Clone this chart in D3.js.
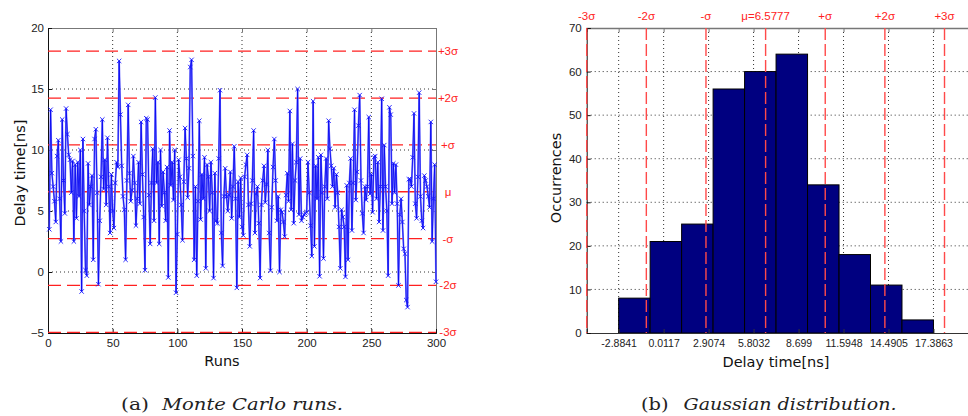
<!DOCTYPE html>
<html>
<head>
<meta charset="utf-8">
<script src="https://cdn.jsdelivr.net/npm/d3@7/dist/d3.min.js"></script>
<style>
  body { margin: 0; background: #fff; }
  svg { display: block; }
  .tick text { font-family: "Liberation Sans", Arial, sans-serif; font-size: 11.5px; fill: #222; }
  .title { font-family: "DejaVu Sans", Verdana, sans-serif; font-size: 14.5px; fill: #111; }
  .sig { font-family: "Liberation Sans", Arial, sans-serif; font-size: 11.5px; fill: #f22; }
  .cap { font-family: "DejaVu Serif", "Liberation Serif", serif; font-size: 17px; fill: #222; }
</style>
</head>
<body>
<svg id="chart" width="968" height="416"></svg>
<script>
// Monte Carlo delay per run (ns), runs 1..300
const runDelays = [
  3.5, 13.3, 8.1, 7.0, 5.8, 4.1, 9.5, 10.8, 6.0, 2.5,
  12.5, 7.5, 4.8, 13.4, 11.3, 9.6, 9.2, 6.5, 9.1, 2.5,
  8.8, 4.4, 9.0, 6.2, 10.0, -1.6, 10.9, 5.0, 0.15, -0.3,
  8.9, 5.5, 7.0, 7.9, 1.0, 10.9, 11.7, 6.5, -1.0, 4.2,
  7.8, 12.5, 6.8, 9.2, 5.5, 11.0, 7.0, 3.2, 8.0, 5.0,
  3.6, 7.3, 9.0, 8.6, 17.3, 12.9, 8.7, 6.2, 5.1, 1.0,
  7.5, 13.7, 8.1, 5.8, 6.7, 9.5, 7.3, 3.8, 6.0, 9.0,
  5.6, 12.3, 8.0, 4.5, 0.15, 12.6,
  12.5, 6.3, 2.3, 7.3, 10.1, 4.2, 14.3, 7.3, 9.0, 2.3,
  10.0, 5.4, 8.2, 6.5, 4.2, 8.6, -0.45, 11.6, 7.1, 9.0,
  5.9, 10.0, -1.7, 3.1, 9.2, 7.8, 5.5, 2.6, 7.4, 11.8,
  9.3, 6.1, 8.5, 16.8, 17.39, 9.5, 1.0, 7.0, -0.3, 5.8,
  12.4, 4.3, 8.0, 6.0, 9.4, 0.3, 8.8, 7.8, 5.0, 9.0,
  6.5, -0.5, 8.1, 4.2, 4.0, 9.3, 14.9, 3.2, 0.5, 6.2,
  8.5, 6.2, 5.0, 6.3, 8.2, 4.4, 7.0, 10.3, 6.0, -1.3,
  7.4, 4.5, 7.7, 3.7,
  3.0, 7.8, 8.8, 9.6, 5.5, 2.1, 5.6, 7.5, 11.6, 3.2,
  6.4, 7.0, 4.0, -0.5, 5.5, 7.5, 8.7, 5.7, 7.2, 10.0,
  3.2, 0.1, 5.3, 8.6, 10.9, 7.5, 4.2, 6.2, 0.0, 5.1,
  4.9, 4.1, 2.9, 6.3, 8.1, 5.8, 13.2, 5.1, 10.5, 4.0,
  7.5, 9.0, 15.0, 4.7, 9.3, 4.2, 4.5, 4.7, 4.8, 4.9,
  9.0, 6.5, 3.8, 1.3, 14.0, 2.1, 8.7, 6.0, 9.4, -0.35,
  9.6, 6.5, 1.1, 7.0, 9.3, 6.0, 12.4, 10.1, 8.7, 7.0,
  8.5, 5.3, 8.0, 6.5, 3.7, 0.3,
  5.1, 4.5, 3.7, -0.4, 7.1, 1.0, 7.3, 9.3, 3.4, 7.3,
  13.3, 5.9, 8.2, 12.0, 14.5, 7.5, 4.8, 3.2, 7.0, 5.9,
  7.0, 12.7, 6.4, 8.0, 4.9, 9.4, 9.5, 6.0, 9.0, 4.1,
  7.0, 14.2, 3.4, 10.4, 7.0, 5.0, -0.3, 13.5, 12.9, 5.6,
  8.9, 6.5, 8.8, 5.6, -1.1, 4.7, 6.0, 4.1, 1.9, 1.5,
  -2.3, -2.88, 7.6, 7.6, 7.0, 9.4, 13.0, 5.6, 4.4, 7.8,
  14.7, 6.2, 4.2, 3.6, 7.9, 7.5, 7.0, 6.2, 5.3, 12.3,
  2.5, 6.0, 8.8, -0.8
];

const mu = 6.5777;
const sigma = 3.84;
const sigmaSteps = [-3, -2, -1, 0, 1, 2, 3];
const sigmaNames = ['-3σ', '-2σ', '-σ', 'μ', '+σ', '+2σ', '+3σ'];
const histSigmaNames = ['-3σ', '-2σ', '-σ', 'μ=6.5777', '+σ', '+2σ', '+3σ'];

const runTicks = [0, 50, 100, 150, 200, 250, 300];
const delayTicks = [-5, 0, 5, 10, 15, 20];

// histogram
const binEdges = [-2.8841, -0.8571, 1.1700, 3.1970, 5.2241, 7.2511, 9.2782, 11.3052, 13.3322, 15.3593, 17.3863];
const binCounts = [8, 21, 25, 56, 60, 64, 34, 18, 11, 3];
const histTicks = [-2.8841, 0.0117, 2.9074, 5.8032, 8.699, 11.5948, 14.4905, 17.3863];
const countTicks = [0, 10, 20, 30, 40, 50, 60, 70];

const svg = d3.select('#chart');

//---------------- Left: Monte Carlo runs
const L = { left: 48, right: 436, top: 28, bot: 333 };
const xRun = d3.scaleLinear().domain([0, 300]).range([L.left, L.right]);
const yDelay = d3.scaleLinear().domain([-5, 20]).range([L.bot, L.top]);

const gL = svg.append('g');

// dotted grid
gL.append('g').selectAll('line').data(runTicks.slice(1, -1)).join('line')
  .attr('x1', d => xRun(d)).attr('x2', d => xRun(d))
  .attr('y1', L.top).attr('y2', L.bot)
  .attr('stroke', '#333').attr('stroke-dasharray', '1,3');
gL.append('g').selectAll('line').data(delayTicks.slice(1, -1)).join('line')
  .attr('x1', L.left).attr('x2', L.right)
  .attr('y1', d => yDelay(d)).attr('y2', d => yDelay(d))
  .attr('stroke', '#333').attr('stroke-dasharray', '1,3');

// box + axes (inward ticks)
gL.append('g').attr('transform', `translate(0,${L.top})`)
  .call(d3.axisTop(xRun).tickValues(runTicks).tickSize(-4).tickFormat(''))
  .call(g => g.selectAll('path,line').attr('stroke', '#777'));
gL.append('g').attr('transform', `translate(${L.right},0)`)
  .call(d3.axisRight(yDelay).tickValues(delayTicks).tickSize(-4).tickFormat(''))
  .call(g => g.selectAll('path,line').attr('stroke', '#777'));
gL.append('g').attr('transform', `translate(0,${L.bot})`)
  .call(d3.axisBottom(xRun).tickValues(runTicks).tickSize(-4).tickPadding(6))
  .call(g => g.selectAll('path,line').attr('stroke', '#111'));
gL.append('g').attr('transform', `translate(${L.left},0)`)
  .call(d3.axisLeft(yDelay).tickValues(delayTicks).tickSize(-4).tickPadding(4))
  .call(g => g.selectAll('path,line').attr('stroke', '#111'));

// sigma lines
gL.append('g').selectAll('line').data(sigmaSteps).join('line')
  .attr('x1', L.left).attr('x2', L.right)
  .attr('y1', d => yDelay(mu + d * sigma)).attr('y2', d => yDelay(mu + d * sigma))
  .attr('stroke', '#ff2020').attr('stroke-width', 1.3)
  .attr('stroke-dasharray', d => d === 0 ? '22,3' : '13,6');

gL.append('g').selectAll('text').data(sigmaSteps).join('text')
  .attr('class', 'sig')
  .attr('x', 448).attr('y', d => yDelay(mu + d * sigma))
  .attr('dy', '0.35em').attr('text-anchor', 'middle')
  .text((d, i) => sigmaNames[i]);

// runs line + x markers
const runLine = d3.line()
  .x((d, i) => xRun(i + 1))
  .y(d => yDelay(d));

gL.append('path')
  .attr('d', runLine(runDelays))
  .attr('fill', 'none')
  .attr('stroke', '#7a7aff').attr('stroke-width', 1.8);
gL.append('path')
  .attr('d', runLine(runDelays))
  .attr('fill', 'none')
  .attr('stroke', '#0000f0').attr('stroke-width', 0.8);

const m = 2.2;
gL.append('g').selectAll('path').data(runDelays).join('path')
  .attr('transform', (d, i) => `translate(${xRun(i + 1)},${yDelay(d)})`)
  .attr('d', `M${-m},${-m}L${m},${m}M${-m},${m}L${m},${-m}`)
  .attr('stroke', '#1515ff').attr('stroke-width', 0.9);

gL.append('text').attr('class', 'title')
  .attr('transform', 'translate(25,173) rotate(-90)')
  .attr('text-anchor', 'middle').text('Delay time[ns]');
gL.append('text').attr('class', 'title')
  .attr('x', 222).attr('y', 366).attr('text-anchor', 'middle').text('Runs');

//---------------- Right: Gaussian distribution histogram
const R = { left: 586.7, top: 28, bot: 333 };
const xHist = d3.scaleLinear().domain([mu - 3 * sigma, 20.5]).range([R.left, R.left + (20.5 - mu + 3 * sigma) * 15.53]);
const yCount = d3.scaleLinear().domain([0, 70]).range([R.bot, R.top]);

const gR = svg.append('g');

gR.append('g').selectAll('line').data(histTicks).join('line')
  .attr('x1', d => xHist(d)).attr('x2', d => xHist(d))
  .attr('y1', R.top).attr('y2', R.bot)
  .attr('stroke', '#333').attr('stroke-dasharray', '1,3');
gR.append('g').selectAll('line').data(countTicks.slice(1, -1)).join('line')
  .attr('x1', R.left).attr('x2', 968)
  .attr('y1', d => yCount(d)).attr('y2', d => yCount(d))
  .attr('stroke', '#333').attr('stroke-dasharray', '1,3');

// bars
gR.append('g').selectAll('rect').data(binCounts).join('rect')
  .attr('x', (d, i) => xHist(binEdges[i]))
  .attr('width', (d, i) => xHist(binEdges[i + 1]) - xHist(binEdges[i]))
  .attr('y', d => yCount(d))
  .attr('height', d => yCount(0) - yCount(d))
  .attr('fill', '#000080').attr('stroke', '#000').attr('stroke-width', 1);

gR.append('g').attr('transform', `translate(0,${R.top})`)
  .call(d3.axisTop(xHist).tickValues(histTicks).tickSize(-4).tickFormat(''))
  .call(g => g.selectAll('path,line').attr('stroke', '#777'))
  .call(g => g.select('path').attr('stroke-width', 1.5));
gR.append('g').attr('transform', `translate(0,${R.bot})`)
  .call(d3.axisBottom(xHist).tickValues(histTicks).tickSize(-4).tickPadding(7).tickFormat(d => String(d)))
  .call(g => g.selectAll('path,line').attr('stroke', '#333'))
  .call(g => g.selectAll('text').style('font-size', '10.5px'));
gR.append('g').attr('transform', `translate(${R.left},0)`)
  .call(d3.axisLeft(yCount).tickValues(countTicks).tickSize(-4).tickPadding(5))
  .call(g => g.selectAll('path,line').attr('stroke', '#111'));

// sigma markers
gR.append('g').selectAll('line').data(sigmaSteps).join('line')
  .attr('x1', d => xHist(mu + d * sigma)).attr('x2', d => xHist(mu + d * sigma))
  .attr('y1', R.top).attr('y2', R.bot)
  .attr('stroke', '#ff4a4a').attr('stroke-width', 1.4)
  .attr('stroke-dasharray', '12,4');

gR.append('g').selectAll('text').data(sigmaSteps).join('text')
  .attr('class', 'sig')
  .attr('x', d => xHist(mu + d * sigma)).attr('y', 20)
  .attr('text-anchor', 'middle')
  .text((d, i) => histSigmaNames[i]);

gR.append('text').attr('class', 'title')
  .attr('transform', 'translate(561,178) rotate(-90)')
  .attr('text-anchor', 'middle').text('Occurrences');
gR.append('text').attr('class', 'title')
  .attr('x', 776).attr('y', 367).attr('text-anchor', 'middle').text('Delay time[ns]');

//---------------- captions
svg.append('text').attr('class', 'cap').attr('x', 121).attr('y', 410)
  .attr('textLength', 28).attr('lengthAdjust', 'spacingAndGlyphs').text('(a)');
svg.append('text').attr('class', 'cap').attr('x', 162).attr('y', 410)
  .attr('font-style', 'italic')
  .attr('textLength', 181).attr('lengthAdjust', 'spacingAndGlyphs').text('Monte Carlo runs.');
svg.append('text').attr('class', 'cap').attr('x', 641).attr('y', 410)
  .attr('textLength', 27.5).attr('lengthAdjust', 'spacingAndGlyphs').text('(b)');
svg.append('text').attr('class', 'cap').attr('x', 683.5).attr('y', 410)
  .attr('font-style', 'italic')
  .attr('textLength', 213).attr('lengthAdjust', 'spacingAndGlyphs').text('Gaussian distribution.');
</script>
</body>
</html>
